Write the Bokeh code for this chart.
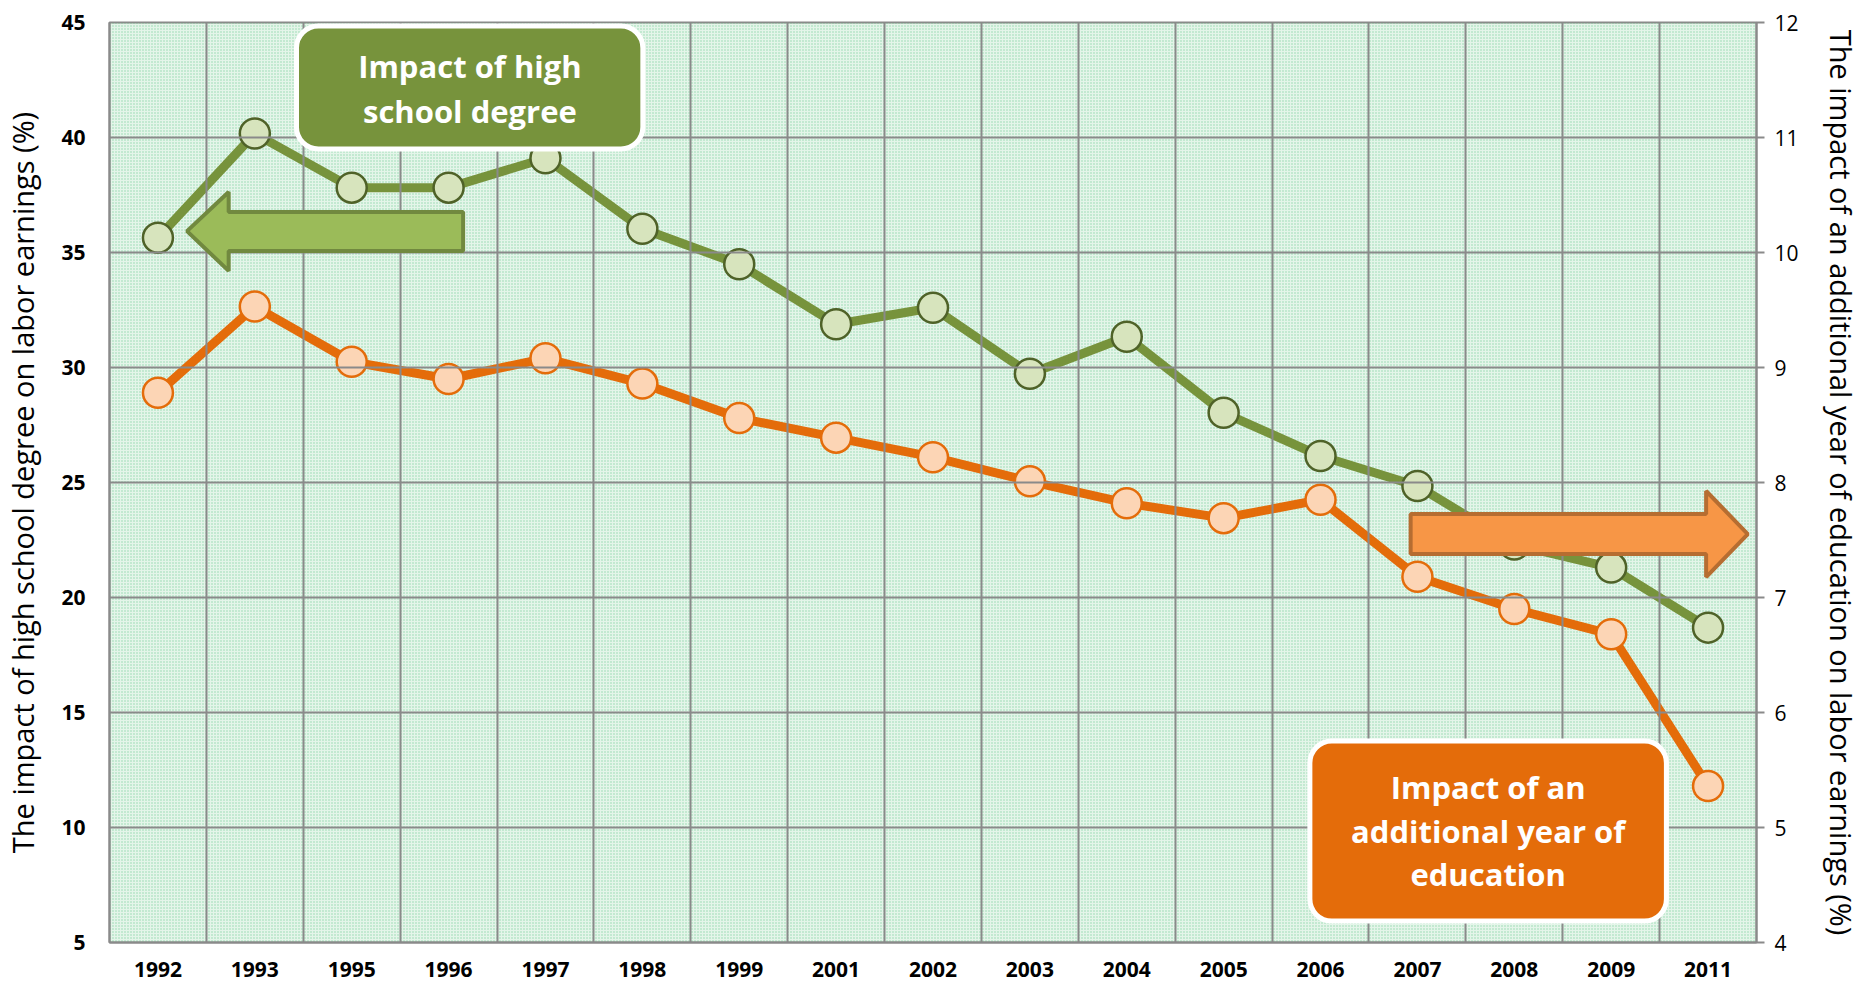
from bokeh.plotting import figure
from bokeh.models import (Range1d, LinearAxis, FixedTicker, BoxAnnotation, Label,
                          PolyAnnotation)
from bokeh.embed import file_html
from bokeh.resources import INLINE

years = ["1992", "1993", "1995", "1996", "1997", "1998", "1999", "2001", "2002",
         "2003", "2004", "2005", "2006", "2007", "2008", "2009", "2011"]
high_school = [35.64, 40.17, 37.82, 37.82, 39.10, 36.03, 34.49, 31.88, 32.60,
               29.73, 31.34, 28.03, 26.15, 24.85, 22.30, 21.30, 18.69]
extra_year = [8.78, 9.53, 9.05, 8.90, 9.08, 8.86, 8.56, 8.39, 8.22,
              8.01, 7.82, 7.69, 7.85, 7.18, 6.90, 6.68, 5.36]
left_ticks = [5, 10, 15, 20, 25, 30, 35, 40, 45]
right_ticks = [4, 5, 6, 7, 8, 9, 10, 11, 12]
left_label = "The impact of high school degree on labor earnings (%)"
right_label = "The impact of an additional year of education on labor earnings (%)"
box1_lines = ["Impact of high", "school degree"]
box2_lines = ["Impact of an", "additional year of", "education"]

FONT = "Open Sans"
GRID = "#8a8a8a"
GREEN = "#77933c"
ORANGE = "#e46c0a"

xs = [i + 0.5 for i in range(len(years))]

p = figure(width=1863, height=986, output_backend="svg", toolbar_location=None,
           x_range=Range1d(0, len(years)), y_range=Range1d(5, 45),
           min_border_left=108, min_border_right=106, min_border_top=22,
           min_border_bottom=44)
p.extra_y_ranges = {"right": Range1d(4, 12)}
p.background_fill_color = "#e4f5e9"
p.border_fill_color = "white"
p.outline_line_color = GRID
p.outline_line_width = 2

# dotted texture of the plot area
p.add_layout(BoxAnnotation(fill_alpha=0, line_alpha=0, hatch_pattern="dot",
                           hatch_scale=3, hatch_color="#4cc07a",
                           hatch_alpha=0.55, hatch_weight=1, level="underlay"))

# grids
p.xgrid.ticker = FixedTicker(ticks=list(range(len(years) + 1)))
p.ygrid.ticker = FixedTicker(ticks=left_ticks)
for g in (p.xgrid, p.ygrid):
    g.grid_line_color = GRID
    g.grid_line_width = 2
    g.level = "glyph"

# x axis
xa = p.xaxis[0]
xa.ticker = FixedTicker(ticks=xs)
xa.major_label_overrides = {x: y for x, y in zip(xs, years)}
xa.major_tick_out = 0
xa.major_tick_in = 0
xa.minor_tick_out = 0
xa.axis_line_color = GRID
xa.axis_line_width = 2
xa.major_label_standoff = 19
xa.major_label_text_font = FONT
xa.major_label_text_font_style = "bold"
xa.major_label_text_font_size = "21px"
xa.major_label_text_color = "black"

# left axis
ya = p.yaxis[0]
ya.ticker = FixedTicker(ticks=left_ticks)
ya.major_tick_out = 0
ya.major_tick_in = 0
ya.minor_tick_out = 0
ya.minor_tick_in = 0
ya.axis_line_color = GRID
ya.axis_line_width = 2
ya.major_label_standoff = 24
ya.major_label_text_font = FONT
ya.major_label_text_font_style = "bold"
ya.major_label_text_font_size = "21px"
ya.major_label_text_color = "black"
ya.axis_label = left_label
ya.axis_label_text_font = FONT
ya.axis_label_text_font_style = "normal"
ya.axis_label_text_font_size = "29px"
ya.axis_label_text_color = "black"
ya.axis_label_standoff = 16

# right axis
ra = LinearAxis(y_range_name="right", ticker=FixedTicker(ticks=right_ticks))
ra.major_tick_out = 8
ra.major_tick_in = 0
ra.minor_tick_out = 0
ra.minor_tick_in = 0
ra.major_tick_line_color = GRID
ra.major_tick_line_width = 2
ra.axis_line_color = GRID
ra.axis_line_width = 2
ra.major_label_standoff = 10
ra.major_label_text_font = FONT
ra.major_label_text_font_size = "21px"
ra.major_label_text_color = "black"
ra.axis_label = right_label
ra.axis_label_text_font = FONT
ra.axis_label_text_font_style = "normal"
ra.axis_label_text_font_size = "29px"
ra.axis_label_text_color = "black"
ra.axis_label_standoff = 20
p.add_layout(ra, "right")

# series
p.line(xs, high_school, line_color=GREEN, line_width=9, line_join="round")
p.line(xs, extra_year, y_range_name="right", line_color=ORANGE, line_width=9,
       line_join="round")
p.scatter(xs, high_school, size=30, fill_color="#d7e4bd", line_color="#4f6228",
          line_width=2.5)
p.scatter(xs, extra_year, y_range_name="right", size=30, fill_color="#fcd5b5",
          line_color=ORANGE, line_width=2.5)

# arrows
p.add_layout(PolyAnnotation(
    xs=[0.80, 1.23, 1.23, 3.65, 3.65, 1.23, 1.23],
    ys=[35.93, 37.63, 36.76, 36.76, 35.07, 35.07, 34.20],
    fill_color="#9bbb59", fill_alpha=1, line_color="#71893f", line_width=4,
    line_alpha=1))
p.add_layout(PolyAnnotation(
    xs=[13.43, 16.48, 16.48, 16.91, 16.48, 16.48, 13.43],
    ys=[23.63, 23.63, 24.63, 22.76, 20.89, 21.89, 21.89],
    fill_color="#f79646", fill_alpha=1, line_color="#b66d31", line_width=4,
    line_alpha=1))

# boxes
p.add_layout(BoxAnnotation(left=1.93, right=5.505, top=44.85, bottom=39.5,
                           fill_color=GREEN, fill_alpha=1, line_color="white",
                           line_width=5, line_alpha=1, border_radius=22))
p.add_layout(BoxAnnotation(left=12.39, right=16.07, top=13.76, bottom=5.93,
                           fill_color=ORANGE, fill_alpha=1, line_color="white",
                           line_width=5, line_alpha=1, border_radius=22))

for txt, yy in zip(box1_lines, [43.11, 41.15]):
    p.add_layout(Label(x=3.72, y=yy, text=txt, text_align="center",
                       text_baseline="middle", text_color="white",
                       text_font=FONT, text_font_style="bold",
                       text_font_size="31px"))
for txt, yy in zip(box2_lines, [11.76, 9.85, 7.98]):
    p.add_layout(Label(x=14.23, y=yy, text=txt, text_align="center",
                       text_baseline="middle", text_color="white",
                       text_font=FONT, text_font_style="bold",
                       text_font_size="31px"))

open("out.html", "w").write(file_html(p, INLINE))
